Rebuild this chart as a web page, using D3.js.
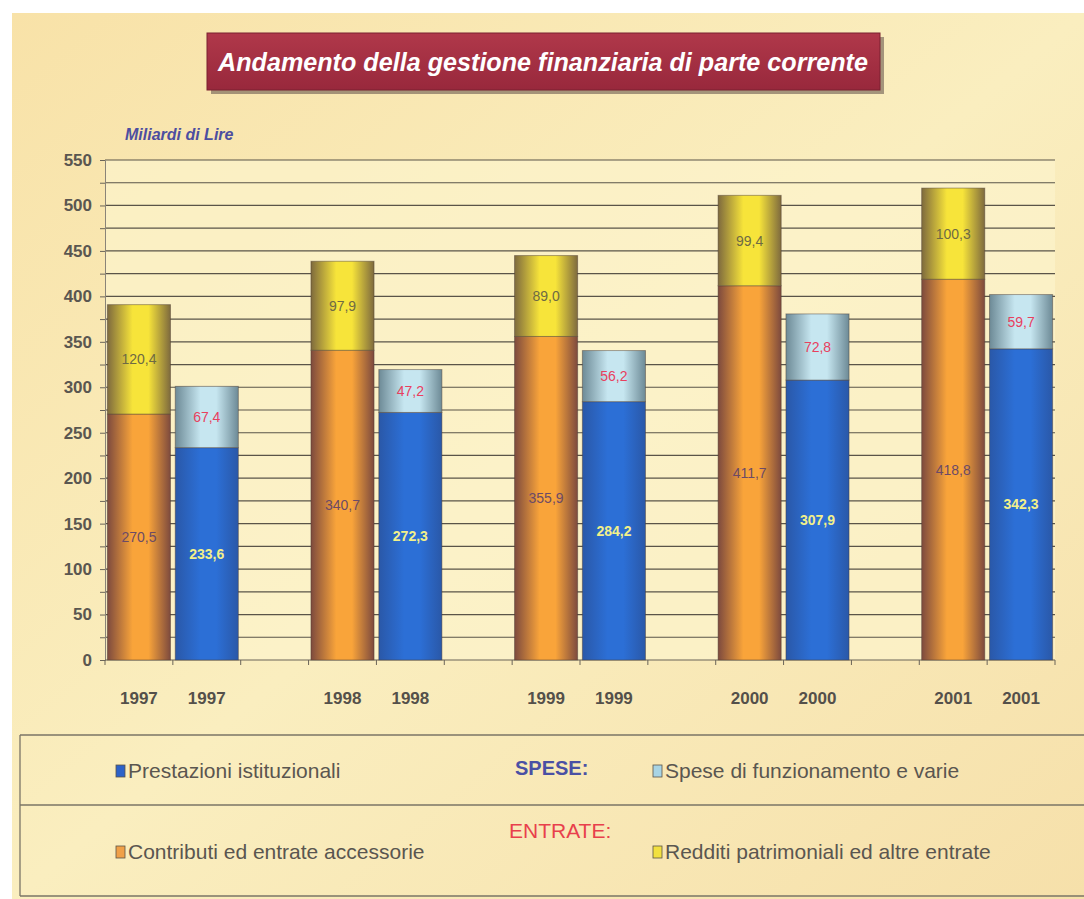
<!DOCTYPE html>
<html>
<head>
<meta charset="utf-8">
<script src="https://cdn.jsdelivr.net/npm/d3@7"></script>
<style>
  body { margin: 0; background: #fff; }
  svg { display: block; }
</style>
</head>
<body>
<div id="chart"></div>
<script>
// values in Miliardi di Lire
const years = ["1997", "1998", "1999", "2000", "2001"];
const contributi = [270.5, 340.7, 355.9, 411.7, 418.8];   // entrate, bottom
const redditi = [120.4, 97.9, 89.0, 99.4, 100.3];         // entrate, top
const prestazioni = [233.6, 272.3, 284.2, 307.9, 342.3];  // spese, bottom
const speseFunz = [67.4, 47.2, 56.2, 72.8, 59.7];         // spese, top
const yTicks = [0, 50, 100, 150, 200, 250, 300, 350, 400, 450, 500, 550];

const W = 1084, H = 899;
const svg = d3.select('#chart').append('svg')
    .attr('width', W)
    .attr('height', H);

const defs = svg.append('defs');

// horizontal "cylinder" gradients for the bars
function barGrad(id, edge, mid) {
    let g = defs.append('linearGradient').attr('id', id)
        .attr('x1', 0).attr('x2', 1).attr('y1', 0).attr('y2', 0);
    g.append('stop').attr('offset', '0%').attr('stop-color', edge);
    g.append('stop').attr('offset', '40%').attr('stop-color', mid);
    g.append('stop').attr('offset', '65%').attr('stop-color', mid);
    g.append('stop').attr('offset', '100%').attr('stop-color', edge);
}
barGrad('gOrange', '#7d4a3e', '#f9a43a');
barGrad('gYellow', '#7e6a3e', '#f7e43a');
barGrad('gBlue', '#2a58a8', '#2c6fd6');
barGrad('gLight', '#6d8a96', '#c6e6f0');

let bg = defs.append('linearGradient').attr('id', 'gBg')
    .attr('x1', 0).attr('x2', 1).attr('y1', 0).attr('y2', 1);
bg.append('stop').attr('offset', '0%').attr('stop-color', '#f8e2a8');
bg.append('stop').attr('offset', '50%').attr('stop-color', '#faeebf');
bg.append('stop').attr('offset', '100%').attr('stop-color', '#f6e0aa');

let tg = defs.append('linearGradient').attr('id', 'gTitle')
    .attr('x1', 0).attr('x2', 0).attr('y1', 0).attr('y2', 1);
tg.append('stop').attr('offset', '0%').attr('stop-color', '#b0384a');
tg.append('stop').attr('offset', '100%').attr('stop-color', '#98283c');

// panel
svg.append('rect')
    .attr('x', 12).attr('y', 13)
    .attr('width', W - 12).attr('height', H - 13)
    .attr('fill', 'url(#gBg)');

// plot area
const margin = { top: 160, right: 29, bottom: 239, left: 105 };
const plotW = W - margin.left - margin.right;
const plotH = H - margin.top - margin.bottom;

svg.append('rect')
    .attr('x', margin.left).attr('y', margin.top)
    .attr('width', plotW).attr('height', plotH)
    .attr('fill', '#fcf3cc')
    .attr('opacity', 0.7);

const y = d3.scaleLinear().domain([0, 550]).range([margin.top + plotH, margin.top]);

// 14 slots: entrate, spese, gap, entrate, spese, gap, ...
const slots = d3.range(years.length * 3 - 1);
const x = d3.scaleBand().domain(slots)
    .range([margin.left, margin.left + plotW])
    .paddingInner(0.07).paddingOuter(0.035);

// gridlines every 25
svg.append('g')
    .selectAll('line')
    .data(d3.range(25, 551, 25))
    .join('line')
    .attr('x1', margin.left).attr('x2', margin.left + plotW)
    .attr('y1', d => y(d)).attr('y2', d => y(d))
    .attr('stroke', '#5a5448')
    .attr('stroke-width', 1.2);

// y axis
const yAxis = svg.append('g')
    .attr('transform', `translate(${margin.left},0)`)
    .call(d3.axisLeft(y).tickValues(d3.range(0, 551, 25)).tickSize(5)
        .tickFormat(d => yTicks.includes(d) ? d : ''));
yAxis.select('.domain').attr('stroke', '#8a8478');
yAxis.selectAll('.tick line').attr('stroke', '#6a6458');
yAxis.selectAll('.tick text')
    .attr('x', -13)
    .attr('fill', '#5a5650')
    .style('font', 'bold 17px "Liberation Sans Narrow", "Arial Narrow", Arial, sans-serif');

// x axis baseline and ticks at slot boundaries
svg.append('line')
    .attr('x1', margin.left).attr('x2', margin.left + plotW)
    .attr('y1', y(0)).attr('y2', y(0))
    .attr('stroke', '#6a6458').attr('stroke-width', 1.2);
svg.append('g')
    .selectAll('line')
    .data(d3.range(slots.length + 1))
    .join('line')
    .attr('x1', d => margin.left + d * plotW / slots.length)
    .attr('x2', d => margin.left + d * plotW / slots.length)
    .attr('y1', y(0)).attr('y2', y(0) + 5)
    .attr('stroke', '#6a6458');

// build stacked segments
let segs = [];
years.forEach((yr, i) => {
    segs.push({ slot: i * 3, y0: 0, y1: contributi[i], v: contributi[i], fill: 'url(#gOrange)', lc: '#6c4a66' });
    segs.push({ slot: i * 3, y0: contributi[i], y1: contributi[i] + redditi[i], v: redditi[i], fill: 'url(#gYellow)', lc: '#6e6a44' });
    segs.push({ slot: i * 3 + 1, y0: 0, y1: prestazioni[i], v: prestazioni[i], fill: 'url(#gBlue)', lc: '#f2f08a' });
    segs.push({ slot: i * 3 + 1, y0: prestazioni[i], y1: prestazioni[i] + speseFunz[i], v: speseFunz[i], fill: 'url(#gLight)', lc: '#e8405e' });
});

const fmt = v => v.toFixed(1).replace('.', ',');

svg.append('g')
    .selectAll('rect')
    .data(segs)
    .join('rect')
    .attr('x', d => x(d.slot))
    .attr('width', x.bandwidth())
    .attr('y', d => y(d.y1))
    .attr('height', d => y(d.y0) - y(d.y1))
    .attr('fill', d => d.fill)
    .attr('stroke', '#4a3a30')
    .attr('stroke-opacity', 0.45)
    .attr('stroke-width', 1);

svg.append('g')
    .selectAll('text')
    .data(segs)
    .join('text')
    .attr('x', d => x(d.slot) + x.bandwidth() / 2)
    .attr('y', d => y((d.y0 + d.y1) / 2) + 5)
    .attr('text-anchor', 'middle')
    .attr('fill', d => d.lc)
    .style('font', '14px "Liberation Sans Narrow", "Arial Narrow", Arial, sans-serif')
    .style('font-weight', d => d.fill === 'url(#gBlue)' ? 'bold' : 'normal')
    .text(d => fmt(d.v));

// year labels under each bar
let barSlots = [];
years.forEach((yr, i) => { barSlots.push({ slot: i * 3, yr }); barSlots.push({ slot: i * 3 + 1, yr }); });
svg.append('g')
    .selectAll('text')
    .data(barSlots)
    .join('text')
    .attr('x', d => x(d.slot) + x.bandwidth() / 2)
    .attr('y', 704)
    .attr('text-anchor', 'middle')
    .attr('fill', '#54504a')
    .style('font', 'bold 17px "Liberation Sans Narrow", "Arial Narrow", Arial, sans-serif')
    .text(d => d.yr);

// unit label
svg.append('text')
    .attr('x', 125).attr('y', 140)
    .attr('fill', '#4c4ea0')
    .style('font', 'italic bold 16px "Liberation Sans Narrow", "Arial Narrow", Arial, sans-serif')
    .text('Miliardi di Lire');

// title box
svg.append('rect')
    .attr('x', 211).attr('y', 37)
    .attr('width', 673).attr('height', 57)
    .attr('fill', '#6a5a50').attr('opacity', 0.6);
svg.append('rect')
    .attr('x', 207).attr('y', 33)
    .attr('width', 673).attr('height', 57)
    .attr('fill', 'url(#gTitle)')
    .attr('stroke', '#7a2030');
svg.append('text')
    .attr('x', 218).attr('y', 71)
    .attr('textLength', 650)
    .attr('lengthAdjust', 'spacingAndGlyphs')
    .attr('fill', '#fff')
    .style('font', 'italic bold 25px "Liberation Sans Narrow", "Arial Narrow", Arial, sans-serif')
    .text('Andamento della gestione finanziaria di parte corrente');

// legend box
const lg = svg.append('g');
[735, 805, 896].forEach(ly => {
    lg.append('line')
        .attr('x1', 20).attr('x2', W)
        .attr('y1', ly).attr('y2', ly)
        .attr('stroke', '#7a7466').attr('stroke-width', 1.3);
});
lg.append('line')
    .attr('x1', 20).attr('x2', 20)
    .attr('y1', 735).attr('y2', 896)
    .attr('stroke', '#7a7466').attr('stroke-width', 1.3);

const legendItems = [
    { label: 'Prestazioni istituzionali', color: '#2c62c8', x: 116, y: 778 },
    { label: 'Spese di funzionamento e varie', color: '#a8d4e4', x: 653, y: 778 },
    { label: 'Contributi ed entrate accessorie', color: '#f0a048', x: 116, y: 859 },
    { label: 'Redditi patrimoniali ed altre entrate', color: '#f2e040', x: 653, y: 859 }
];
legendItems.forEach(d => {
    lg.append('rect')
        .attr('x', d.x).attr('y', d.y - 13)
        .attr('width', 9).attr('height', 12)
        .attr('fill', d.color)
        .attr('stroke', '#5a5448').attr('stroke-width', 0.8);
    lg.append('text')
        .attr('x', d.x + 12).attr('y', d.y)
        .attr('fill', '#5a5650')
        .style('font', '21px "Liberation Sans Narrow", "Arial Narrow", Arial, sans-serif')
        .text(d.label);
});
lg.append('text')
    .attr('x', 515).attr('y', 775)
    .attr('fill', '#4a50a4')
    .style('font', 'bold 20px "Liberation Sans Narrow", "Arial Narrow", Arial, sans-serif')
    .text('SPESE:');
lg.append('text')
    .attr('x', 509).attr('y', 838)
    .attr('fill', '#e8404c')
    .style('font', '21px "Liberation Sans Narrow", "Arial Narrow", Arial, sans-serif')
    .text('ENTRATE:');
</script>
</body>
</html>
